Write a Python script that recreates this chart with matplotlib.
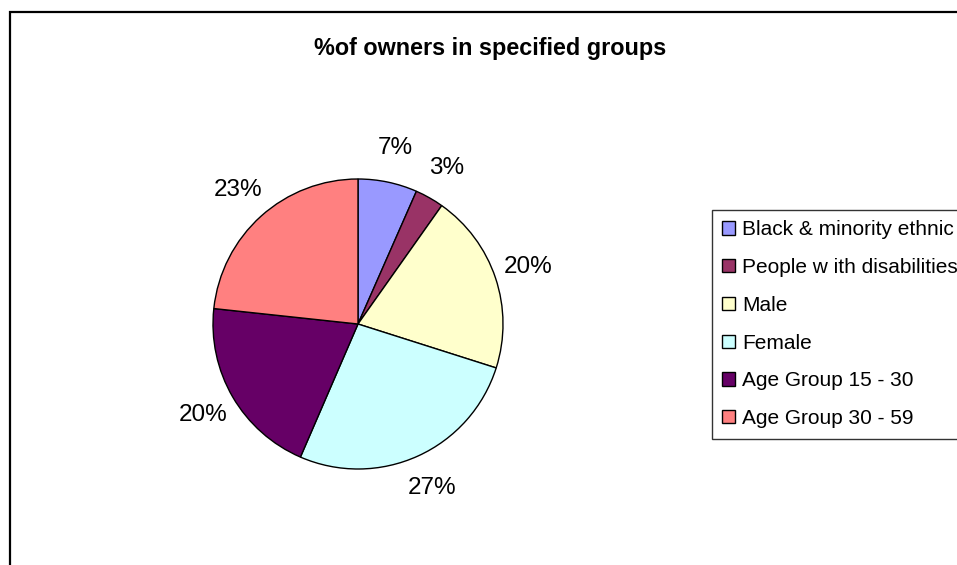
import matplotlib
matplotlib.use("Agg")
import matplotlib.pyplot as plt
from matplotlib.patches import Rectangle

plt.rcParams['font.family'] = ['Liberation Sans', 'DejaVu Sans']

# data
groups = ["Black & minority ethnic", "People w ith disabilities", "Male",
          "Female", "Age Group 15 - 30", "Age Group 30 - 59"]
shares = [6.6, 3.2, 20.1, 26.6, 20.2, 23.3]
share_labels = ["7%", "3%", "20%", "27%", "20%", "23%"]
colors = ["#9999FF", "#993366", "#FFFFCC", "#CCFFFF", "#660066", "#FF8080"]

W, H = 957, 565
fig = plt.figure(figsize=(W / 100, H / 100), dpi=100)
ax = fig.add_axes([0, 0, 1, 1])

wedges, texts = ax.pie(shares, labels=share_labels, colors=colors,
                       startangle=90, counterclock=False,
                       center=(358, H - 324), radius=145,
                       labeldistance=1.24,
                       wedgeprops=dict(edgecolor="black", linewidth=1.0),
                       textprops=dict(fontsize=17.5))
for t in texts:
    t.set_ha("center")
    t.set_va("center")

ax.set_xlim(0, W)
ax.set_ylim(0, H)
ax.set_aspect("equal")
ax.axis("off")

fig.text(490 / W, 1 - 48 / H, "%of owners in specified groups",
         ha="center", va="center", fontsize=16.8, fontweight="bold")

leg = fig.legend(wedges, groups, loc="upper left",
                 bbox_to_anchor=(712 / W, 1 - 210 / H),
                 fontsize=15, frameon=True, fancybox=False, shadow=False,
                 handlelength=0.6, handleheight=0.6, handletextpad=0.35,
                 labelspacing=0.9, borderpad=0.5, borderaxespad=0)
leg.get_frame().set_edgecolor("black")
leg.get_frame().set_linewidth(1.0)
for h in leg.legend_handles:
    h.set_edgecolor("black")
    h.set_linewidth(1.0)

# outer chart border (cropped at right and bottom)
fig.add_artist(Rectangle((10 / W, -0.2), 1.2, 1.2 - 12 / H,
                         transform=fig.transFigure, fill=False,
                         edgecolor="black", linewidth=1.6))

fig.savefig("out.png", dpi=100)
